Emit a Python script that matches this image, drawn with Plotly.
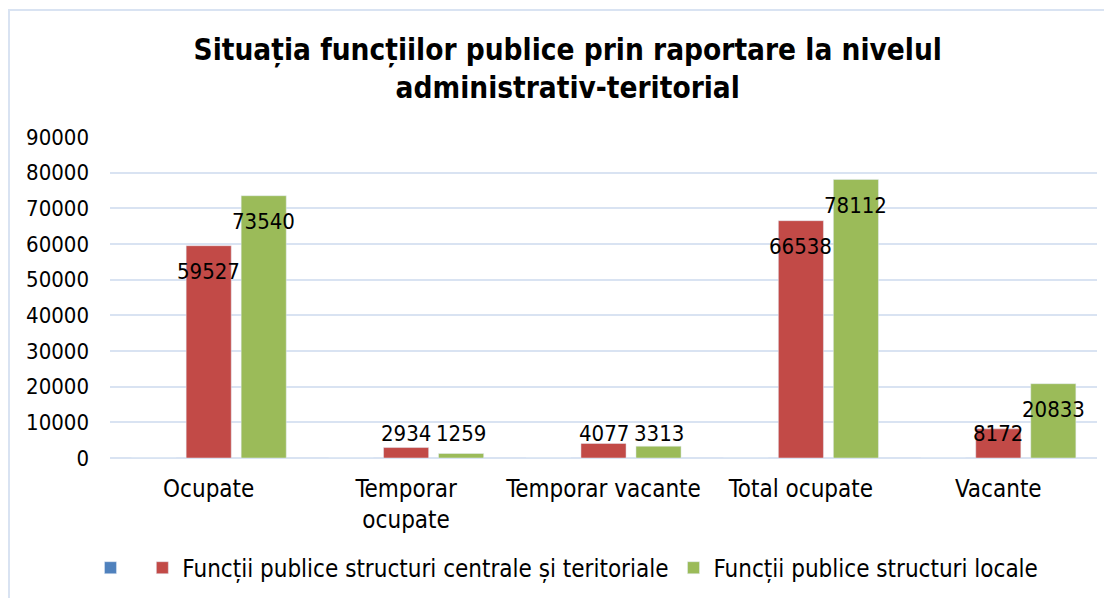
import plotly.graph_objects as go

categorii = ["Ocupate", "Temporar<br>ocupate", "Temporar vacante", "Total ocupate", "Vacante"]
serie_goala = [0, 0, 0, 0, 0]
centrale_teritoriale = [59527, 2934, 4077, 66538, 8172]
locale = [73540, 1259, 3313, 78112, 20833]

nume_centrale = "Funcții publice structuri centrale și teritoriale"
nume_locale = "Funcții publice structuri locale"

FONT = "DejaVu Sans Condensed, DejaVu Sans, sans-serif"

fig = go.Figure()

fig.add_trace(go.Bar(x=categorii, y=serie_goala, name=" ",
                     marker=dict(color="#4f81bd")))
fig.add_trace(go.Bar(x=categorii, y=centrale_teritoriale, name=nume_centrale,
                     marker=dict(color="#c24a47")))
fig.add_trace(go.Bar(x=categorii, y=locale, name=nume_locale,
                     marker=dict(color="#9bbb59")))

# etichetele valorilor: in interiorul barei, langa capat, dar nu prea jos
for serie, deplasare in [(centrale_teritoriale, 0), (locale, 55)]:
    for cat, v in zip(categorii, serie):
        fig.add_annotation(x=cat, y=max(v - 7300, 7000), xref="x", yref="y",
                           text=str(v), showarrow=False, xshift=deplasare,
                           font=dict(family=FONT, size=22, color="black"))

# pagina are o margine de 8px, deci figura e putin mai mica
fig.update_layout(
    width=1104, height=590,
    paper_bgcolor="white", plot_bgcolor="white",
    margin=dict(l=102, r=15, t=129, b=140, autoexpand=False),
    barmode="group", bargap=0.164, bargroupgap=0.18,
    font=dict(family=FONT, size=24, color="black"),
    title=dict(text="<b>Situația funcțiilor publice prin raportare la nivelul<br>administrativ-teritorial</b>",
               x=0.507, xanchor="center", y=0.912, yanchor="top",
               font=dict(family=FONT, size=29.5, color="black")),
    xaxis=dict(showgrid=False, showline=False, ticks="", ticklabelstandoff=14,
               tickfont=dict(size=24), automargin=False),
    yaxis=dict(range=[0, 90000], dtick=10000, showgrid=True, gridcolor="#d9e3f2",
               gridwidth=2, zeroline=True, zerolinecolor="#d9e3f2", zerolinewidth=2,
               showline=False, ticks="", ticklabelstandoff=20, tickformat="d",
               tickfont=dict(size=22), automargin=False),
    legend=dict(orientation="h", x=0.463, xanchor="center", y=-0.343, yanchor="middle",
                font=dict(size=24), itemwidth=30, traceorder="normal"),
    showlegend=True,
)

# chenarul graficului
fig.add_shape(type="rect", xref="paper", yref="paper",
              x0=(9 - 110) / 987, x1=(1130 - 110) / 987,
              y0=(458 - 610) / 321, y1=(458 - 10) / 321,
              line=dict(color="#d9e3f2", width=2), fillcolor="rgba(0,0,0,0)", layer="below")

fig.write_html("out.html")
